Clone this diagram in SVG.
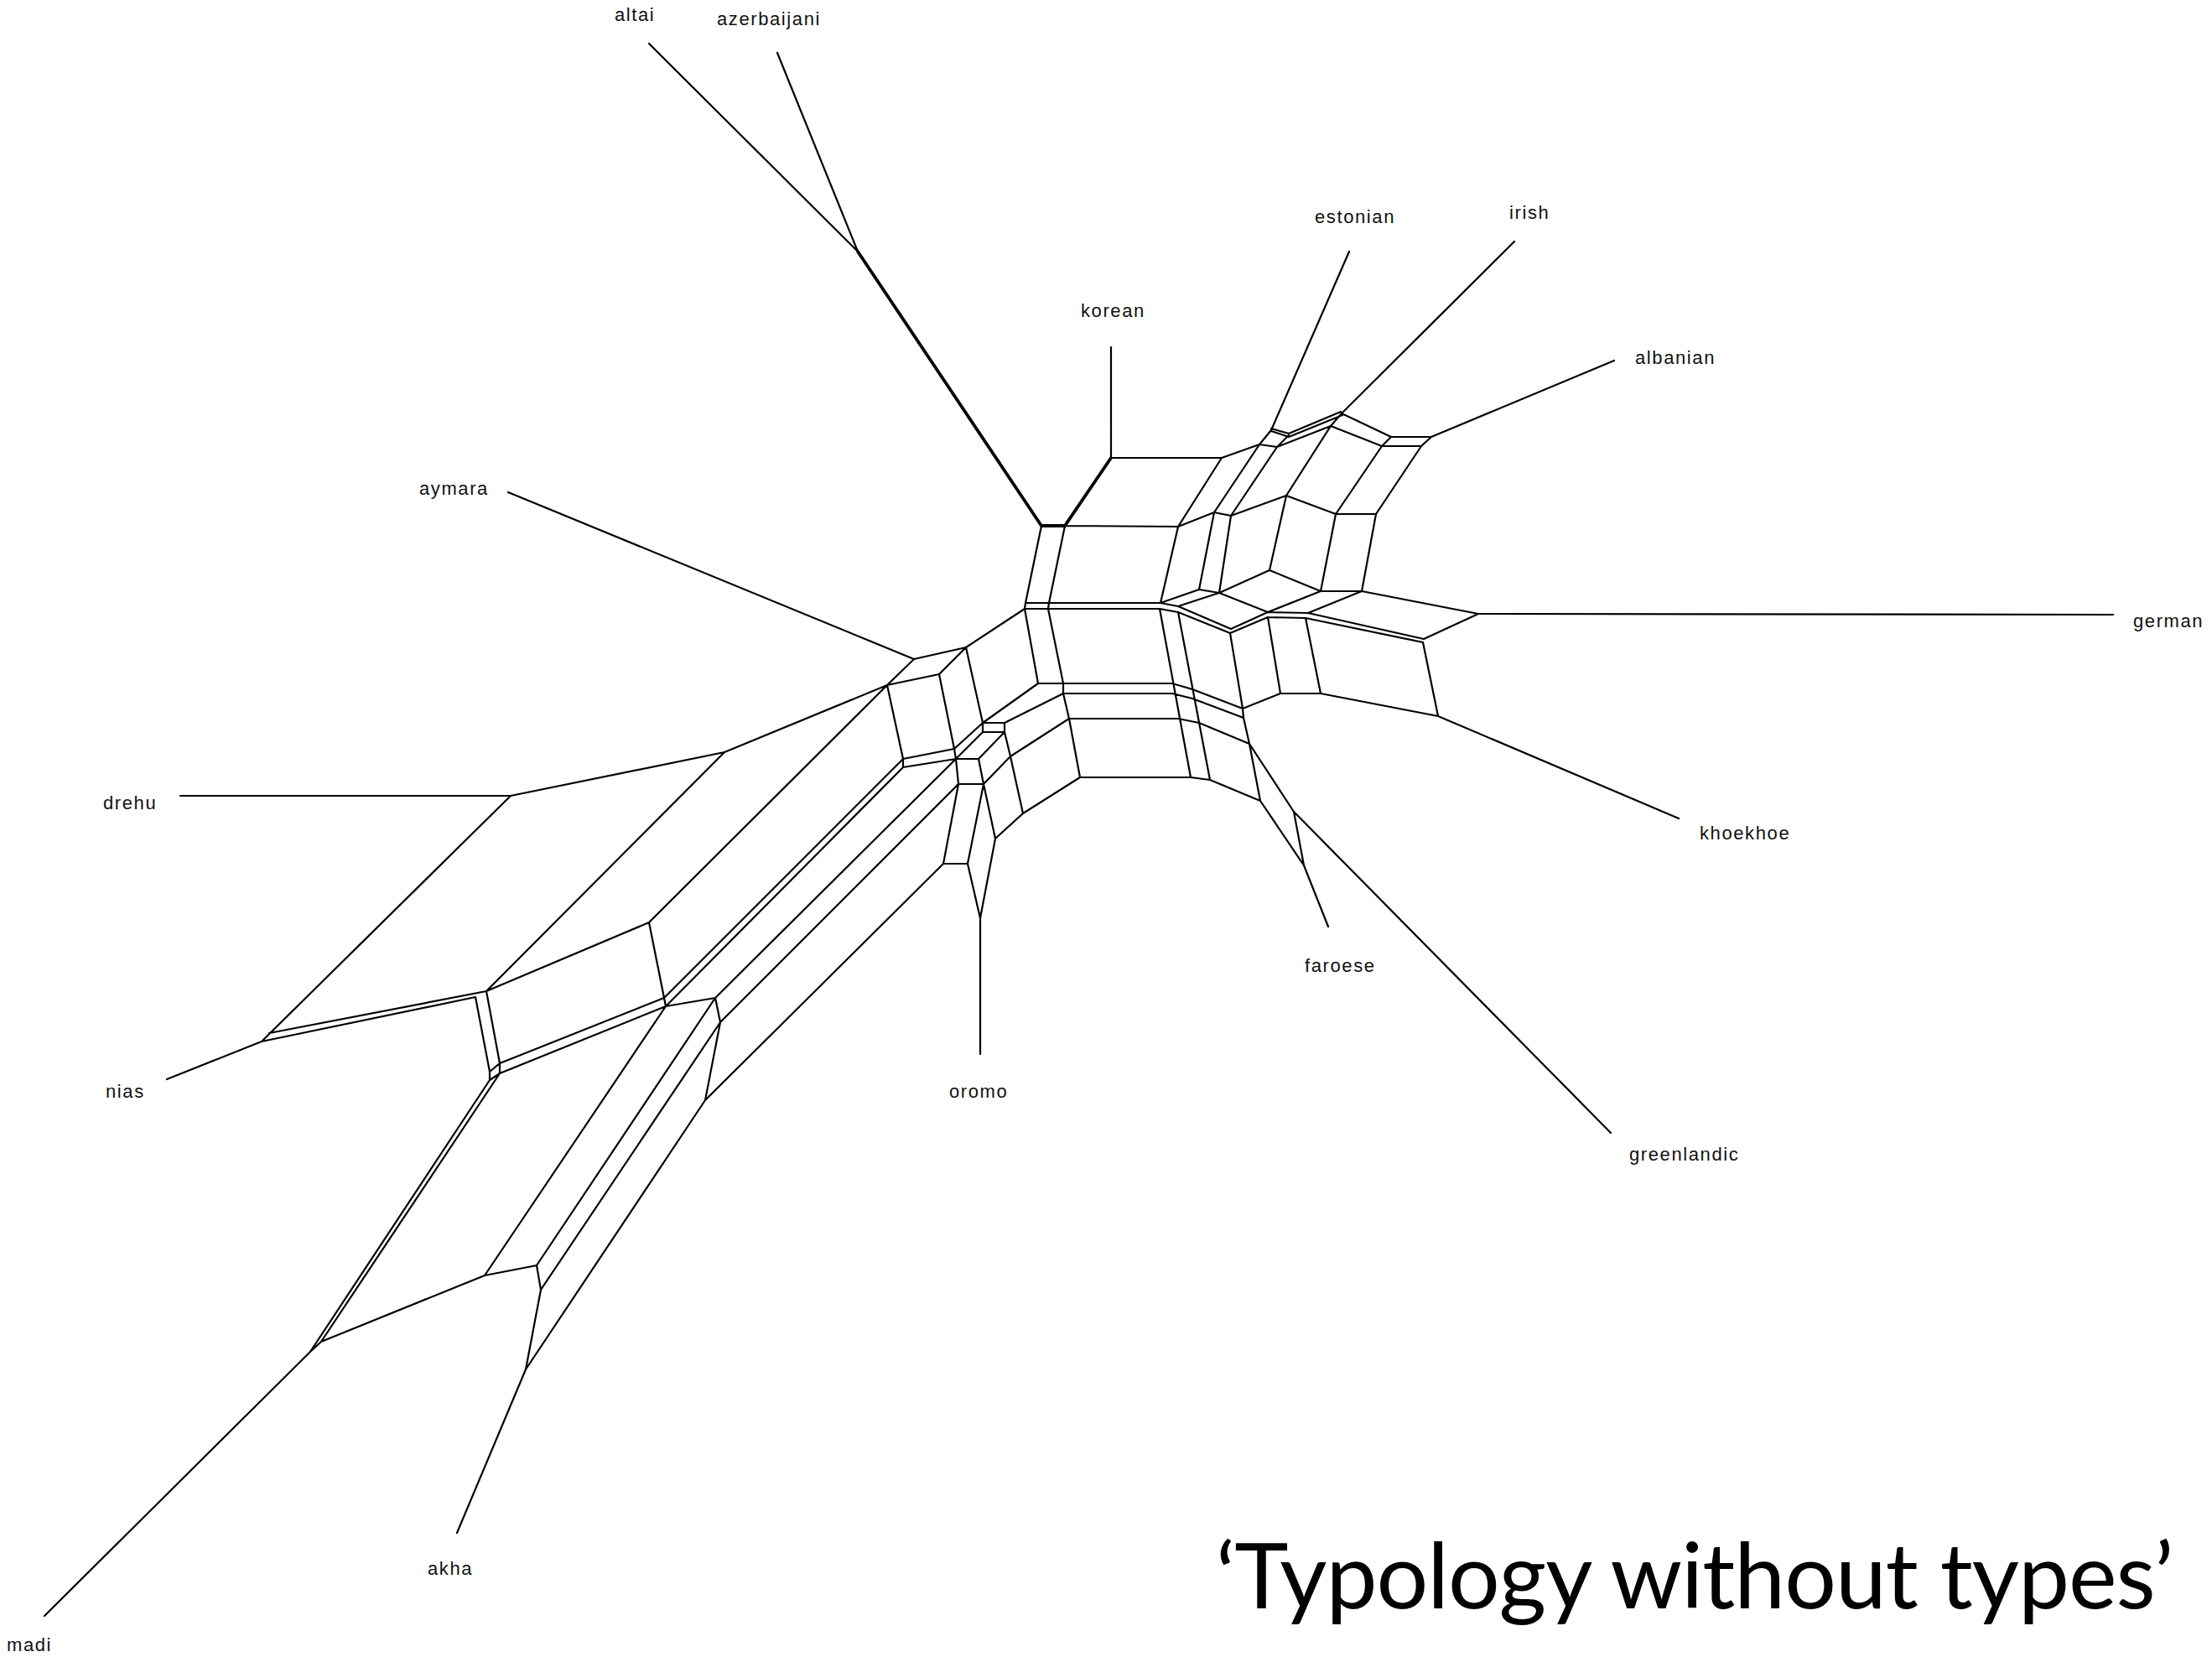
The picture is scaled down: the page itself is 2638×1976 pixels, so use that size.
<svg xmlns="http://www.w3.org/2000/svg" width="2638" height="1976" viewBox="0 0 2638 1976">
<style>
.e{stroke:#000;stroke-width:2.2;fill:none;stroke-linejoin:round;stroke-linecap:round}
.t{stroke-width:3.8}
.lbl{font-family:"Liberation Sans",Arial,sans-serif;font-size:22px;letter-spacing:1.6px;fill:#111}
.title{font-family:Lato,"Open Sans",sans-serif;font-size:109px;letter-spacing:-1px;fill:#000}
</style>
<rect width="2638" height="1976" fill="#fff"/>
<g id="edges" class="e">
<path class="e t" d="M1023,300L1242,627M1242,627L1270,627M1270,627L1325,546"/>
<path class="e" d="
M774,52L1023,300 M927,63L1023,300
M1325,414L1325,546 M1325,546L1457,546 M1457,546L1502,530 M1502,530L1516,513
M1516,513L1609,300
M1516,511L1537,517 M1516,514L1537,521
M1502,530L1523,533 M1523,533L1537,519
M1537,517L1599,491 M1537,521L1601,495
M1523,533L1587,508 M1587,508L1600,493
M1600,493L1806,288
M1600,493L1659,521 M1587,508L1648,532 M1648,532L1659,521
M1659,521L1707,521 M1648,532L1695,532 M1695,532L1707,521
M1707,521L1925,430
M1242,627L1223,719
M1270,627L1251,719L1250,726L1268,815L1268,827L1275,857L1288,927
M1457,546L1405,628 M1405,628L1448,611 M1448,611L1502,530
M1270,627L1405,628
M1448,611L1468,615 M1468,615L1523,533 M1468,615L1534,591 M1534,591L1587,508
M1534,591L1593,613 M1593,613L1648,532 M1593,613L1641,613 M1641,613L1695,532
M1405,628L1384,719 M1448,611L1430,703 M1468,615L1454,707
M1534,591L1514,680 M1593,613L1575,705 M1641,613L1624,705
M1384,719L1430,703 M1430,703L1454,707 M1454,707L1514,680 M1514,680L1575,705
M1575,705L1624,705 M1624,705L1763,732
M1763,732L2520,733
M1763,732L1698,762
M1560,731L1698,762 M1557,737L1697,766
M1454,707L1512,730 M1575,705L1512,730 M1624,705L1560,731
M1512,730L1560,731 M1512,736L1557,737
M1468,750L1512,730 M1467,755L1512,736
M1384,719L1405,723L1468,750
M1383,726L1405,730L1467,755
M1405,723L1454,707
M1383,726L1420,927
M1405,730L1443,930
M1467,755L1482,845L1483,856L1490,887L1503,955
M1512,736L1527,827 M1557,737L1575,827 M1697,766L1715,854
M1527,827L1575,827 M1482,845L1527,827 M1575,827L1715,854
M1715,854L2002,976
M1238,815L1398,815L1422,822L1482,845
M1268,827L1398,827L1422,833L1483,856
M1275,857L1405,857L1430,862L1490,887
M1288,927L1420,927L1443,930L1503,955
M1490,887L1543,968L1921,1351
M1503,955L1555,1032L1584,1105
M1543,968L1555,1032
M606,587L1090,786
M1090,786L1152,772 M1152,772L1222,726
M1090,786L1058,817 M1058,817L1120,804 M1120,804L1152,772
M1058,817L1077,905L1077,915
M1120,804L1138,893 M1152,772L1172,862
M1223,719L1222,726L1238,815
M1223,719L1384,719 M1222,726L1383,726
M1238,815L1172,862 M1268,827L1198,862
M1172,862L1198,862 M1172,873L1198,873 M1172,862L1172,873 M1198,862L1198,873
M1172,862L1138,893 M1172,873L1140,905 M1198,873L1167,905
M1140,905L1167,905 M1138,893L1140,905
M1077,905L1138,893 M1077,915L1140,905
M1140,905L1143,935 M1167,905L1173,935 M1143,935L1173,935
M1198,873L1205,902 M1205,902L1173,935 M1205,902L1275,857 M1205,902L1220,970
M1220,970L1288,927 M1220,970L1187,1000 M1173,935L1187,1000
M1143,935L1125,1030 M1173,935L1154,1030 M1125,1030L1154,1030
M1154,1030L1169,1095 M1187,1000L1169,1095
M1169,1095L1169,1257
M1125,1030L841,1312
M1143,935L859,1219
M1140,905L853,1190
M1077,905L792,1190
M1077,915L794,1200
M1058,817L774,1100
M215,949L609,949
M609,949L864,897 M864,897L1058,817
M609,949L312,1242
M864,897L580,1182
M312,1242L199,1287
M312,1242L567,1189 M321,1232L580,1182
M774,1100L580,1182 M774,1100L792,1190 M792,1190L794,1200
M580,1182L596,1268 M567,1189L584,1278
M584,1278L596,1268 M596,1268L596,1280 M584,1278L584,1288 M584,1288L596,1280
M596,1268L792,1190 M596,1280L794,1200
M584,1288L370,1612 M596,1280L383,1600 M370,1612L383,1600
M370,1612L53,1927
M383,1600L578,1521
M578,1521L640,1509 M578,1521L794,1200
M794,1200L853,1190
M640,1509L853,1190 M853,1190L859,1219
M640,1509L645,1538 M645,1538L859,1219
M859,1219L841,1312
M645,1538L627,1633 M627,1633L841,1312
M627,1633L545,1828
"/>
</g>
<g id="n-altai"><text class="lbl" x="733" y="25">altai</text></g>
<g id="n-azerbaijani"><text class="lbl" x="855" y="30">azerbaijani</text></g>
<g id="n-estonian"><text class="lbl" x="1568" y="266">estonian</text></g>
<g id="n-irish"><text class="lbl" x="1800" y="261">irish</text></g>
<g id="n-korean"><text class="lbl" x="1289" y="378">korean</text></g>
<g id="n-albanian"><text class="lbl" x="1950" y="434">albanian</text></g>
<g id="n-aymara"><text class="lbl" x="500" y="590">aymara</text></g>
<g id="n-german"><text class="lbl" x="2544" y="748">german</text></g>
<g id="n-drehu"><text class="lbl" x="123" y="965">drehu</text></g>
<g id="n-khoekhoe"><text class="lbl" x="2027" y="1001">khoekhoe</text></g>
<g id="n-faroese"><text class="lbl" x="1556" y="1159">faroese</text></g>
<g id="n-nias"><text class="lbl" x="126" y="1309">nias</text></g>
<g id="n-oromo"><text class="lbl" x="1132" y="1309">oromo</text></g>
<g id="n-greenlandic"><text class="lbl" x="1943" y="1384">greenlandic</text></g>
<g id="n-akha"><text class="lbl" x="510" y="1878">akha</text></g>
<g id="n-madi"><text class="lbl" x="8" y="1969">madi</text></g>
<g id="title"><text class="title" x="1450" y="1918">‘Typology without types’</text></g>
</svg>
